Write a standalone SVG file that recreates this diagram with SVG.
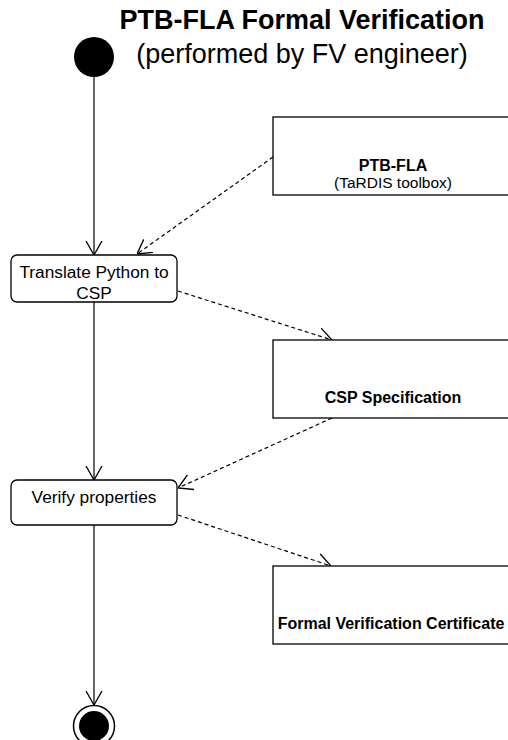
<svg xmlns="http://www.w3.org/2000/svg" width="508" height="740" viewBox="0 0 508 740">
  <style>
    .title { font-family: "Liberation Sans", Arial, sans-serif; font-size: 27px; font-weight: bold; fill: #000; }
    .subtitle { font-family: "Liberation Sans", Arial, sans-serif; font-size: 27px; fill: #000; }
    .action { fill: #fff; stroke: #000; stroke-width: 1.3; }
    .object { fill: #fff; stroke: #000; stroke-width: 1.3; }
    .label { font-family: "Liberation Sans", Arial, sans-serif; font-size: 17.3px; fill: #000; text-anchor: middle; }
    .olabel { font-family: "Liberation Sans", Arial, sans-serif; font-size: 16px; font-weight: bold; fill: #000; text-anchor: middle; }
    .osub { font-family: "Liberation Sans", Arial, sans-serif; font-size: 15.5px; fill: #000; text-anchor: middle; }
    .flow { fill: none; stroke: #000; stroke-width: 1.2; }
    .dep { fill: none; stroke: #000; stroke-width: 1.2; stroke-dasharray: 4 3; }
  </style>
  <defs>
    <marker id="open" viewBox="0 0 14 18" refX="14" refY="9" markerWidth="14" markerHeight="18" markerUnits="userSpaceOnUse" orient="auto">
      <path d="M0,1 L14,9 L0,17" fill="none" stroke="#000" stroke-width="1.3"/>
    </marker>
  </defs>

  <rect width="508" height="740" fill="#fff"/>

  <!-- heading -->
  <g id="heading">
    <text class="title" x="302" y="29" text-anchor="middle">PTB-FLA Formal Verification</text>
    <text class="subtitle" x="302" y="63" text-anchor="middle">(performed by FV engineer)</text>
  </g>

  <!-- connectors -->
  <g id="connectors">
    <line class="flow" x1="94" y1="77" x2="94" y2="255" marker-end="url(#open)"/>
    <line class="flow" x1="94" y1="302" x2="94" y2="480" marker-end="url(#open)"/>
    <line class="flow" x1="94" y1="525" x2="94" y2="705" marker-end="url(#open)"/>
    <line class="dep" x1="273" y1="157" x2="137" y2="254" marker-end="url(#open)"/>
    <line class="dep" x1="178" y1="291" x2="332" y2="340" marker-end="url(#open)"/>
    <line class="dep" x1="332" y1="418" x2="178" y2="488" marker-end="url(#open)"/>
    <line class="dep" x1="178" y1="515" x2="331" y2="566" marker-end="url(#open)"/>
  </g>

  <!-- initial node -->
  <g id="start">
    <circle cx="94" cy="57" r="20" fill="#000"/>
  </g>

  <!-- actions -->
  <g id="translate">
    <rect class="action" x="11" y="255" width="166" height="47" rx="6"/>
    <text class="label" x="94" y="278">Translate Python to</text>
    <text class="label" x="94" y="299">CSP</text>
  </g>
  <g id="verify">
    <rect class="action" x="11" y="480" width="166" height="45" rx="6"/>
    <text class="label" x="94" y="503">Verify properties</text>
  </g>

  <!-- object nodes -->
  <g id="ptbfla">
    <rect class="object" x="273" y="117" width="240" height="78"/>
    <text class="olabel" x="393" y="171">PTB-FLA</text>
    <text class="osub" x="393" y="188">(TaRDIS toolbox)</text>
  </g>
  <g id="cspspec">
    <rect class="object" x="273" y="340" width="240" height="78"/>
    <text class="olabel" x="393" y="403">CSP Specification</text>
  </g>
  <g id="certificate">
    <rect class="object" x="273" y="566" width="240" height="78"/>
    <text class="olabel" x="391" y="629">Formal Verification Certificate</text>
  </g>

  <!-- final node -->
  <g id="end">
    <circle cx="94" cy="726" r="20.5" fill="#fff" stroke="#000" stroke-width="1.5"/>
    <circle cx="94" cy="726" r="15" fill="#000"/>
  </g>
</svg>
